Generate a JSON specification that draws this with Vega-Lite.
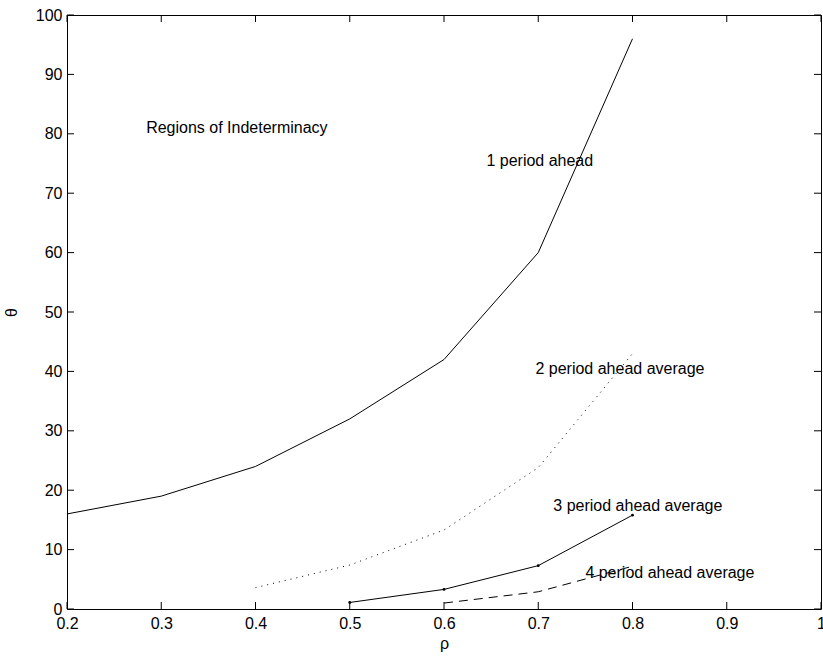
{
  "$schema": "https://vega.github.io/schema/vega-lite/v6.json",
  "width": 754,
  "height": 594,
  "autosize": {"type": "none"},
  "padding": {"left": 67, "top": 15, "right": 2, "bottom": 47},
  "background": "white",
  "config": {
    "view": {"stroke": "black", "strokeWidth": 1},
    "font": "Liberation Sans",
    "axis": {
      "grid": false,
      "domain": false,
      "ticks": false,
      "labelColor": "black",
      "labelFont": "Liberation Sans",
      "labelFontSize": 16,
      "labelFlush": false,
      "labelOverlap": false,
      "titleFont": "Liberation Sans",
      "titleFontWeight": "normal",
      "titleFontSize": 16,
      "titleColor": "black"
    }
  },
  "datasets": {
    "p1": [
      {"rho": 0.2, "theta": 16},
      {"rho": 0.3, "theta": 19},
      {"rho": 0.4, "theta": 24},
      {"rho": 0.5, "theta": 32},
      {"rho": 0.6, "theta": 42},
      {"rho": 0.7, "theta": 60},
      {"rho": 0.8, "theta": 96}
    ],
    "p2": [
      {"rho": 0.4, "theta": 3.6},
      {"rho": 0.5, "theta": 7.4},
      {"rho": 0.6, "theta": 13.3},
      {"rho": 0.7, "theta": 23.8},
      {"rho": 0.8, "theta": 43}
    ],
    "p3": [
      {"rho": 0.5, "theta": 1.1},
      {"rho": 0.6, "theta": 3.3},
      {"rho": 0.7, "theta": 7.3},
      {"rho": 0.8, "theta": 15.8}
    ],
    "p4": [
      {"rho": 0.6, "theta": 1.0},
      {"rho": 0.7, "theta": 2.9},
      {"rho": 0.8, "theta": 7.2}
    ],
    "xticks": [
      {"rho": 0.2}, {"rho": 0.3}, {"rho": 0.4}, {"rho": 0.5}, {"rho": 0.6},
      {"rho": 0.7}, {"rho": 0.8}, {"rho": 0.9}, {"rho": 1.0}
    ],
    "yticks": [
      {"theta": 0}, {"theta": 10}, {"theta": 20}, {"theta": 30}, {"theta": 40}, {"theta": 50},
      {"theta": 60}, {"theta": 70}, {"theta": 80}, {"theta": 90}, {"theta": 100}
    ],
    "labels": [
      {"rho": 0.284, "theta": 81, "label": "Regions of Indeterminacy"},
      {"rho": 0.645, "theta": 75.4, "label": "1 period ahead"},
      {"rho": 0.697, "theta": 40.4, "label": "2 period ahead average"},
      {"rho": 0.716, "theta": 17.3, "label": "3 period ahead average"},
      {"rho": 0.75, "theta": 6, "label": "4 period ahead average"}
    ]
  },
  "layer": [
    {
      "data": {"name": "p1"},
      "mark": {"type": "line", "color": "black", "strokeWidth": 1},
      "encoding": {
        "x": {"field": "rho", "type": "quantitative",
              "scale": {"domain": [0.2, 1], "nice": false, "zero": false},
              "axis": {"orient": "bottom", "title": "ρ", "values": [0.2,0.3,0.4,0.5,0.6,0.7,0.8,0.9,1], "labelPadding": 6, "titlePadding": 4, "format": "~g"}},
        "y": {"field": "theta", "type": "quantitative",
              "scale": {"domain": [0, 100], "nice": false, "zero": false},
              "axis": {"orient": "left", "title": "θ", "values": [0,10,20,30,40,50,60,70,80,90,100], "labelPadding": 5, "titlePadding": 16}}
      }
    },
    {
      "data": {"name": "p2"},
      "mark": {"type": "line", "color": "black", "strokeWidth": 1, "strokeDash": [1, 5]},
      "encoding": {
        "x": {"field": "rho", "type": "quantitative"},
        "y": {"field": "theta", "type": "quantitative"}
      }
    },
    {
      "data": {"name": "p3"},
      "mark": {"type": "line", "color": "black", "strokeWidth": 1, "point": {"filled": true, "color": "black", "size": 8}},
      "encoding": {
        "x": {"field": "rho", "type": "quantitative"},
        "y": {"field": "theta", "type": "quantitative"}
      }
    },
    {
      "data": {"name": "p4"},
      "mark": {"type": "line", "color": "black", "strokeWidth": 1, "strokeDash": [9, 6]},
      "encoding": {
        "x": {"field": "rho", "type": "quantitative"},
        "y": {"field": "theta", "type": "quantitative"}
      }
    },
    {
      "data": {"name": "xticks"},
      "mark": {"type": "tick", "orient": "vertical", "size": 7, "thickness": 1, "yOffset": -3.5, "color": "black", "opacity": 1},
      "encoding": {
        "x": {"field": "rho", "type": "quantitative"},
        "y": {"datum": 0, "type": "quantitative"}
      }
    },
    {
      "data": {"name": "xticks"},
      "mark": {"type": "tick", "orient": "vertical", "size": 7, "thickness": 1, "yOffset": 3.5, "color": "black", "opacity": 1},
      "encoding": {
        "x": {"field": "rho", "type": "quantitative"},
        "y": {"datum": 100, "type": "quantitative"}
      }
    },
    {
      "data": {"name": "yticks"},
      "mark": {"type": "tick", "orient": "horizontal", "size": 7, "thickness": 1, "xOffset": 3.5, "color": "black", "opacity": 1},
      "encoding": {
        "y": {"field": "theta", "type": "quantitative"},
        "x": {"datum": 0.2, "type": "quantitative"}
      }
    },
    {
      "data": {"name": "yticks"},
      "mark": {"type": "tick", "orient": "horizontal", "size": 7, "thickness": 1, "xOffset": -3.5, "color": "black", "opacity": 1},
      "encoding": {
        "y": {"field": "theta", "type": "quantitative"},
        "x": {"datum": 1.0, "type": "quantitative"}
      }
    },
    {
      "data": {"name": "labels"},
      "mark": {"type": "text", "align": "left", "baseline": "middle", "fontSize": 16, "font": "Liberation Sans", "color": "black"},
      "encoding": {
        "x": {"field": "rho", "type": "quantitative"},
        "y": {"field": "theta", "type": "quantitative"},
        "text": {"field": "label", "type": "nominal"}
      }
    }
  ]
}
